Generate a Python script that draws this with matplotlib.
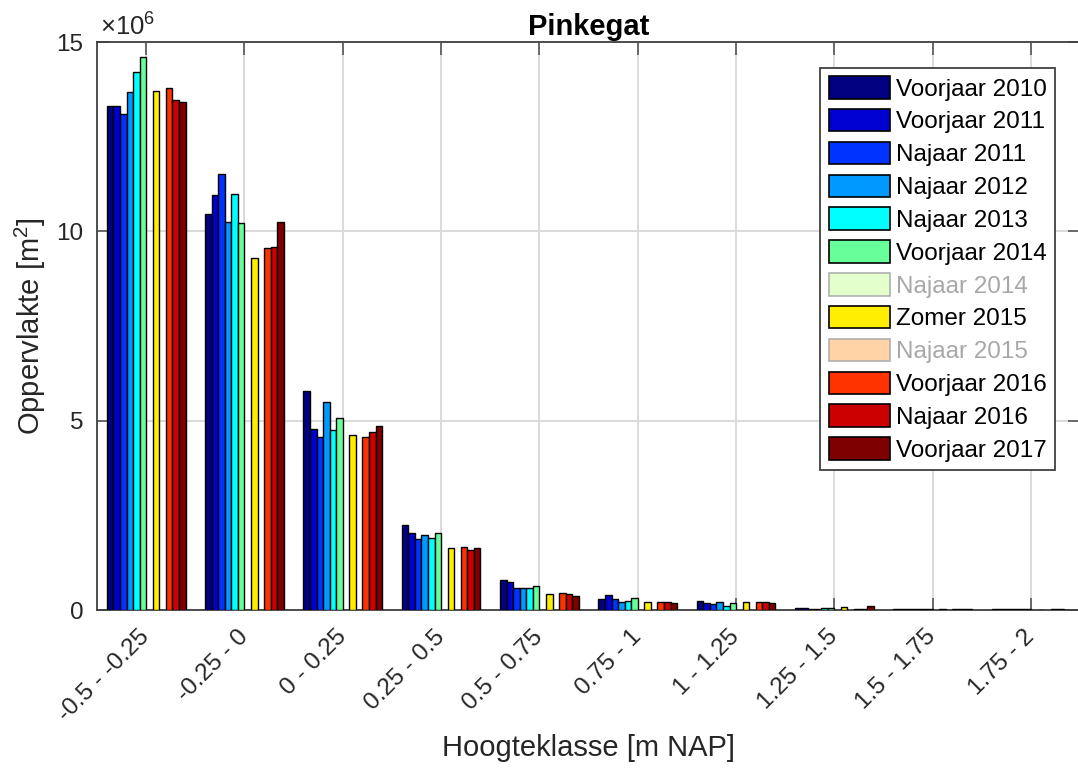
import numpy as np
import matplotlib
matplotlib.use("Agg")
import matplotlib.pyplot as plt
from matplotlib.patches import Patch
from matplotlib.ticker import FuncFormatter, MultipleLocator

plt.rcParams['font.family'] = ['Liberation Sans', 'DejaVu Sans']
plt.rcParams['mathtext.fontset'] = 'custom'
plt.rcParams['mathtext.rm'] = 'Liberation Sans'
plt.rcParams['mathtext.it'] = 'Liberation Sans:italic'

classes = ['-0.5 - -0.25', '-0.25 - 0', '0 - 0.25', '0.25 - 0.5', '0.5 - 0.75',
           '0.75 - 1', '1 - 1.25', '1.25 - 1.5', '1.5 - 1.75', '1.75 - 2']

surveys = ['Voorjaar 2010', 'Voorjaar 2011', 'Najaar 2011', 'Najaar 2012',
           'Najaar 2013', 'Voorjaar 2014', 'Najaar 2014', 'Zomer 2015',
           'Najaar 2015', 'Voorjaar 2016', 'Najaar 2016', 'Voorjaar 2017']

colors = ['#000080', '#0000D2', '#0033FF', '#0099FF', '#00FFFF', '#66FF99',
          '#E2FFCC', '#FFEE00', '#FFD3A5', '#FF3300', '#CC0000', '#7F0000']

# surface area per height class [million m2]; no survey for Najaar 2014 / 2015
voorjaar_2010 = [13.31, 10.45, 5.79, 2.24, 0.79, 0.28, 0.23, 0.06, 0.03, 0.02]
voorjaar_2011 = [13.31, 10.95, 4.77, 2.04, 0.74, 0.39, 0.19, 0.06, 0.03, 0.02]
najaar_2011 = [13.11, 11.52, 4.57, 1.87, 0.59, 0.28, 0.16, 0.04, 0.03, 0.02]
najaar_2012 = [13.69, 10.25, 5.49, 1.98, 0.59, 0.21, 0.20, 0.04, 0.03, 0.02]
najaar_2013 = [14.21, 10.99, 4.75, 1.90, 0.59, 0.24, 0.11, 0.05, 0.04, 0.02]
voorjaar_2014 = [14.60, 10.22, 5.08, 2.04, 0.63, 0.32, 0.18, 0.06, 0.04, 0.02]
najaar_2014 = [np.nan] * 10
zomer_2015 = [13.70, 9.29, 4.63, 1.65, 0.43, 0.22, 0.22, 0.07, 0.02, 0.01]
najaar_2015 = [np.nan] * 10
voorjaar_2016 = [13.78, 9.56, 4.57, 1.66, 0.46, 0.20, 0.22, 0.03, 0.03, 0.02]
najaar_2016 = [13.47, 9.59, 4.69, 1.58, 0.43, 0.20, 0.22, 0.04, 0.03, 0.02]
voorjaar_2017 = [13.42, 10.25, 4.85, 1.65, 0.38, 0.18, 0.18, 0.11, 0.03, 0.01]

series = [voorjaar_2010, voorjaar_2011, najaar_2011, najaar_2012, najaar_2013,
          voorjaar_2014, najaar_2014, zomer_2015, najaar_2015, voorjaar_2016,
          najaar_2016, voorjaar_2017]
missing = [False, False, False, False, False, False, True, False, True,
           False, False, False]

SCALE = 1e6
TXT = '#262626'
fig = plt.figure(figsize=(10.78, 7.71), dpi=100)
ax = fig.add_axes([0.09, 0.2088, 0.912, 0.7367])

x = np.arange(1, len(classes) + 1)
n = len(series)
w = 0.8 / n
for i, (vals, c) in enumerate(zip(series, colors)):
    if missing[i]:
        continue
    ax.bar(x + (i - (n - 1) / 2) * w, np.array(vals) * SCALE, width=w,
           color=c, edgecolor='black', linewidth=1.0, zorder=3)

ax.set_xlim(0.5, len(classes) + 0.5)
ax.set_ylim(0, 15 * SCALE)
ax.set_xticks(x)
ax.set_xticklabels(classes, rotation=45, ha='right', va='center',
                   rotation_mode='anchor', fontsize=17.5, color=TXT)
ax.yaxis.set_major_locator(MultipleLocator(5 * SCALE))
ax.yaxis.set_major_formatter(FuncFormatter(lambda v, p: f'{v / SCALE:g}'))
ax.text(0.003, 1.012, '×10$^{6}$', transform=ax.transAxes, fontsize=18.5,
        color=TXT, ha='left', va='baseline')
ax.tick_params(axis='both', direction='in', length=9, width=1.2,
               top=True, right=True, colors='#555555')
ax.tick_params(axis='y', labelsize=17.5, labelcolor=TXT, pad=10)
ax.tick_params(axis='x', labelcolor=TXT, pad=17)

ax.grid(True, color='#DADADA', linewidth=1.4, zorder=0)
ax.set_axisbelow(True)
for s in ax.spines.values():
    s.set_color('#404040')
    s.set_linewidth(1.3)

ax.set_title('Pinkegat', fontsize=21, fontweight='bold', color='black', pad=5)
ax.set_xlabel('Hoogteklasse [m NAP]', fontsize=21, color=TXT, labelpad=6)
ax.set_ylabel('Oppervlakte [m$^2$]', fontsize=21, color=TXT, labelpad=6)

handles = []
for i, c in enumerate(colors):
    ec = '#B0B0B0' if missing[i] else 'black'
    handles.append(Patch(facecolor=c, edgecolor=ec, linewidth=1.2))
leg = ax.legend(handles, surveys, loc='upper right',
                bbox_to_anchor=(0.9746, 0.955), fontsize=17.5,
                handlelength=2.5, handleheight=1.05, handletextpad=0.25,
                labelspacing=0.34, borderpad=0.35, borderaxespad=0.0,
                fancybox=False, framealpha=1, edgecolor='#404040')
leg.get_frame().set_linewidth(1.3)
for t, m in zip(leg.get_texts(), missing):
    t.set_color('#A8A8A8' if m else 'black')

fig.savefig('out.png', dpi=100)
